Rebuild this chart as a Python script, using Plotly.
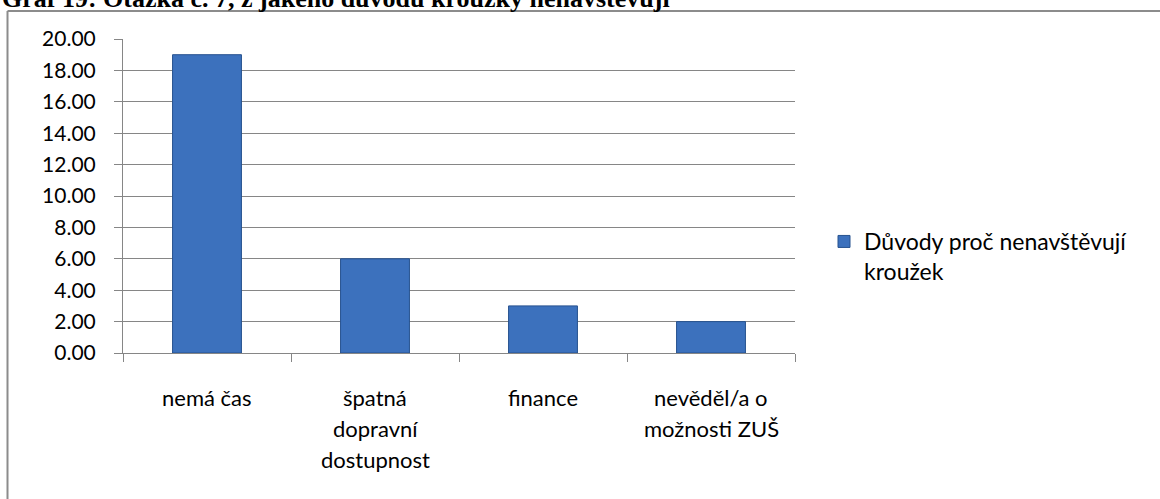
import plotly.graph_objects as go

categories = ["nemá čas", "špatná dopravní dostupnost", "finance", "nevěděl/a o možnosti ZUŠ"]
label_lines = [["nemá čas"], ["špatná", "dopravní", "dostupnost"], ["finance"], ["nevěděl/a o", "možnosti ZUŠ"]]
values = [19.0, 6.0, 3.0, 2.0]
series_name = "Důvody proč nenavštěvují<br>kroužek"
title_text = "Graf 19: Otázka č. 7, z jakého důvodu kroužky nenavštěvují"
y_ticks = [0, 2, 4, 6, 8, 10, 12, 14, 16, 18, 20]

FONT = "Lato"
W, H = 1160, 499
L, R, T, B = 123, 365, 39, 146
pw, ph = W - L - R, H - T - B

fig = go.Figure()
fig.add_trace(go.Bar(
    x=categories, y=values, name=series_name, width=0.41,
    marker=dict(color="#3c71bd", line=dict(color="#27528f", width=1)),
    showlegend=True,
))

ann = []
for cat, lines in zip(categories, label_lines):
    for i, ln in enumerate(lines):
        ann.append(dict(x=cat, xref="x", y=0, yref="paper", text=ln, showarrow=False,
                        yanchor="middle", yshift=-44 - 31 * i,
                        font=dict(family=FONT, size=22, color="#000")))

ann.append(dict(x=(0 - L) / pw, xref="paper", y=(H - B - 15) / ph, yref="paper",
                xanchor="left", yanchor="bottom", text="<b>" + title_text + "</b>",
                showarrow=False, font=dict(family="Liberation Serif", size=26, color="#000")))

shapes = [
    dict(type="line", xref="paper", yref="paper", x0=(7.5 - L) / pw, x1=(W + 5 - L) / pw,
         y0=(H - B - 11) / ph, y1=(H - B - 11) / ph, line=dict(color="#8c8c8c", width=2)),
    dict(type="line", xref="paper", yref="paper", x0=(7.5 - L) / pw, x1=(7.5 - L) / pw,
         y0=(H - B - 11) / ph, y1=(H - B - H - 5) / ph, line=dict(color="#8c8c8c", width=2)),
]

fig.update_layout(
    width=W, height=H, margin=dict(l=L, r=R, t=T, b=B, autoexpand=False),
    paper_bgcolor="white", plot_bgcolor="white",
    font=dict(family=FONT, size=21, color="#000"),
    bargap=0.59,
    xaxis=dict(type="category", tickson="boundaries", ticks="outside", ticklen=8,
               tickcolor="#868686", showline=True, linecolor="#868686", linewidth=1,
               showgrid=False, showticklabels=False, range=[-0.5, 3.5]),
    yaxis=dict(range=[0, 20], tickvals=y_ticks, tickformat=".2f", ticks="outside", ticklen=8,
               tickcolor="#868686", showline=True, linecolor="#868686", linewidth=1,
               showgrid=True, gridcolor="#868686", gridwidth=1, zeroline=False,
               ticklabelstandoff=14, tickfont=dict(family=FONT, size=21)),
    legend=dict(x=(824 - L) / pw, xanchor="left", y=(H - B - 220) / ph, yanchor="top",
                valign="top", font=dict(family=FONT, size=23), bgcolor="rgba(0,0,0,0)",
                itemwidth=30),
    annotations=ann, shapes=shapes,
)

fig.write_html("out.html", config={"displayModeBar": False},
               post_script="document.body.style.margin='0';")
